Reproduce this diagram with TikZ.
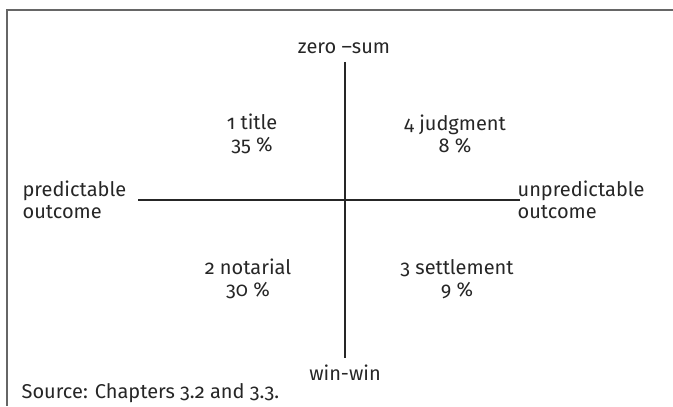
\documentclass[tikz,border=0pt]{standalone}
\usepackage{fontspec}
\setmainfont[Numbers=OldStyle]{Fira Sans}
\usetikzlibrary{positioning}

\begin{document}
\begin{tikzpicture}[x=0.75pt,y=-0.75pt,
  every node/.style={text=black!85,font=\fontsize{15}{16.5}\selectfont,inner sep=1pt},
  quad/.style={align=center},
  axis/.style={black!85,line width=0.9pt}]
\useasboundingbox (0,0) rectangle (673,406);

% Marco
\draw[black!60,line width=1.6pt] (673,10) -- (7,10) -- (7,406);

% Rótulos de los ejes
\node (zero) at (344,48) {zero --sum};
\node (win) at (345,373) {win-win};
\node[align=left,anchor=west] (pred) at (21,200) {predictable\\outcome};
\node[align=left,anchor=west] (unpred) at (516,200) {unpredictable\\outcome};

% Ejes
\coordinate (top) at (345,62);
\coordinate (bot) at (345,358);
\coordinate (left) at (138,200);
\coordinate (right) at (520,200);
\draw[axis] (top) -- (bot);
\draw[axis] (left) -- (right);

% Cuadrantes
\node[quad] (title) at (252,134) {1 title\\35 \%};
\node[quad] (judg) at (455,134) {4 judgment\\8 \%};
\node[quad] (nota) at (248,279) {2 notarial\\30 \%};
\node[quad] (sett) at (457,279) {3 settlement\\9 \%};

% Fuente
\node[anchor=west] (src) at (20,393) {Source: Chapters 3.2 and 3.3.};
\end{tikzpicture}
\end{document}
